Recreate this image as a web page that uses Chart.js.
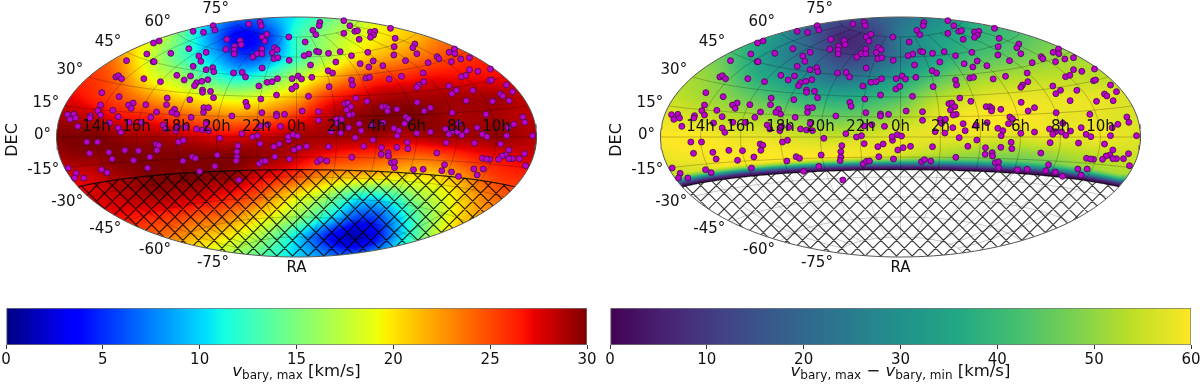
<!DOCTYPE html>
<html>
<head>
<meta charset="utf-8">
<style>
  html, body { margin: 0; padding: 0; background: #fff; overflow: hidden; width: 1200px; height: 384px; }
  canvas { position: absolute; }
</style>
<script src="https://cdn.jsdelivr.net/npm/chart.js@4"></script>
</head>
<body>
<canvas id="mapLeft" width="600" height="290" style="left:0;top:0"></canvas>
<canvas id="mapRight" width="596" height="290" style="left:604px;top:0"></canvas>
<canvas id="barLeft" width="604" height="89" style="left:0;top:295px"></canvas>
<canvas id="barRight" width="596" height="89" style="left:604px;top:295px"></canvas>
<script>
// sky plane of the Aitoff map: x -720..720, y -360..360
const raLabels = ['14h', '16h', '18h', '20h', '22h', '0h', '2h', '4h', '6h', '8h', '10h'];
const raLons = [-150, -120, -90, -60, -30, 0, 30, 60, 90, 120, 150];
const decLats = [75, 60, 45, 30, 15, 0, -15, -30, -45, -60, -75];
const decLimit = -24.5;

// targets, same list in both panels
const starX = [
  -250,-310,-279,-245,-143,-109,-106,-412,-429,-209,-169,-166,-103,-89,-95,-23,-186,-212,-187,-187,
  -449,-377,-323,-271,-293,-104,-118,-104,-131,-66,-58,-73,-68,-56,-22,-510,-430,-427,-287,-310,
  -251,-271,-248,-103,-189,-163,-153,-359,-318,-337,-542,-534,-525,-458,-408,-300,-306,-284,-266,-57,
  -88,-73,-13,-113,-14,-584,-282,-282,-258,-60,-532,-388,-249,-107,-320,-152,-148,-490,-504,-496,
  -452,-390,-588,-596,-551,-366,-360,-374,-278,-264,-279,-420,-104,-60,-36,-60,-194,-687,-668,-663,
  -680,-618,-620,-588,-535,-437,-316,-656,-561,-503,-465,-271,-400,-109,-86,-48,-357,-335,-392,-362,
  -535,-527,-300,-282,-264,-164,-230,-132,-117,
  -629,-597,-421,-413,-354,-339,-176,-109,-68,-52,-24,-25,-10,3,-621,-563,-553,-515,-474,-440,
  -419,-489,-341,-313,-303,-238,-179,-179,-181,-65,-8,-21,-112,-102,-93,-245,-447,-685,-661,-585,
  -568,-666,-638,-291,-173,
  142,70,68,160,49,58,142,175,183,222,235,231,222,282,296,188,26,293,355,349,
  214,131,96,60,67,37,23,165,292,361,422,427,458,474,475,465,493,519,118,42,
  191,230,217,259,327,395,95,108,519,544,582,495,508,380,315,278,208,219,165,46,
  5,15,168,98,-2,382,366,361,457,480,466,529,579,585,630,648,612,619,638,588,
  509,36,178,211,362,145,154,163,150,257,268,274,273,301,383,402,17,66,467,568,
  679,685,167,158,66,120,135,123,328,336,324,188,227,260,487,652,635,542,447,465,
  457,483,510,496,557,571,630,708,157,104,133,194,292,307,302,361,402,176,229,
  449,534,612,202,96,30,8,255,301,332,334,637,254,275,276,628,617,606,421,166,
  684,669,648,637,558,579,570,63,72,91,284,294,294,687,444,351,380,436,465,486,
  532,560,542
];
const starY = [
  334,317,314,321,339,344,334,288,282,293,289,277,300,308,288,300,272,263,261,249,
  249,251,265,254,243,264,250,250,240,268,262,253,235,238,230,229,226,226,227,212,
  208,202,196,207,192,194,180,185,183,171,180,184,175,175,166,163,154,167,172,175,
  164,166,175,153,144,133,141,134,137,126,121,117,118,114,112,104,92,102,96,86,
  97,97,96,79,80,83,69,74,88,88,74,75,73,69,68,63,63,67,68,57,
  53,64,57,66,61,59,59,32,42,44,44,40,36,33,37,32,32,29,24,19,
  27,14,24,21,19,10,-4,0,4,
  -15,-15,-21,-25,-15,-10,-26,-20,-29,-21,-10,1,7,3,-49,-46,-66,-40,-41,-60,
  -40,-70,-72,-59,-64,-54,-44,-60,-71,-59,-39,-66,-80,-73,-72,-88,-93,-93,-109,-98,
  -107,-123,-123,-103,-129,
  349,344,334,334,320,307,311,317,319,315,317,306,299,326,296,293,285,271,279,268,
  254,256,251,257,255,249,244,244,246,250,241,235,254,264,250,226,234,238,225,216,
  220,228,210,214,229,223,199,192,202,197,204,181,185,192,182,174,177,179,171,179,
  183,174,156,151,152,166,156,149,153,140,130,140,169,171,156,136,129,123,109,107,
  109,122,117,107,104,100,102,91,81,91,91,86,78,83,78,88,78,76,73,68,
  60,44,68,66,50,53,53,41,60,54,40,40,35,43,41,38,28,28,24,16,
  8,15,18,5,8,1,4,4,28,16,12,19,26,19,4,11,15,-2,-9,
  -17,-18,-21,-28,-29,-28,-32,-32,-31,-16,-35,-39,-52,-47,-57,-54,-57,-67,-48,-61,
  -50,-65,-65,-65,-64,-67,-66,-74,-68,-72,-77,-75,-92,-86,-83,-98,-97,-101,-105,-118,
  -96,-96,-114
];

// v_bary,max read on a plane grid: 25 columns x=-720..720, rows y=360 downwards, every 60
const vMaxRows = [
  [22,22,21,20,18,17,15,12,9,7,7,9,11,13,15,17,19,20,21,22,23,24,24,25,25],
  [25,24,23,21,20,18,15,11,7,3.5,4,7,12.5,15,17,18.5,19.5,20.5,21.5,23,24,25,25,26,26],
  [26,25,24.5,23,20,17,14,11.5,9,6,6,9,12.5,15.5,18,20,21.5,22.5,23.5,24.5,25.5,26,26.5,27,27],
  [26.5,26,25.5,24,21,18.5,17,14.5,12.5,11,12,14.5,17,19.5,22,24,25.5,26,26.5,27,27,27,27,27,27],
  [27.5,27,26,25,23.5,22,20.5,19.5,18.5,18,18.5,20,21.5,24.5,26.5,27.5,28.5,29,29,29,29,29,29,28.5,28],
  [29,28.5,28,27,26.5,26,25,24,23.5,23,23.5,24.5,26,27.5,29,29.5,30,30,30,29.5,29,29,29,28.5,28.5],
  [30,30,30,29.5,29,29,28.5,28,27.5,27.5,28,28.5,29,29,29,29,29,28.5,28.5,29,29,29,29.5,29,28.5],
  [29,29.5,29.5,30,30,30,30,30,30,30,29.5,29,28,27,26,25.5,25,24.5,24,24.5,25.5,26.5,27,27.5,28],
  [27,27.5,28,29,29.5,30,30,30,29.5,29,27.5,26.5,25,23,21.5,21,20.5,20,20,20.5,22,24,25.5,26,26],
  [26.5,27,27.5,28,28.5,29,28.5,28,27,26,24.5,22,19.5,17.5,14.5,11.5,11,13,16,18,20,22.5,24,25,25],
  [26.5,27,27,27,26.5,26,25.5,24.5,24,22.5,20.5,18.5,16,13,9.5,6,6,9.5,13.5,17,20,22,23,24,24],
  [26,26,26,25.5,25,24,23,21.5,20.5,19,17,14,10.5,6.5,3,1.5,4,9,13.5,18,21,22,23,24,24],
  [25,25,25,24,23,22,20,19,18,16,14,12,10,8.5,7,7,9,12,16,19,21,22,23,24,24]
];
// v_bary,max - v_bary,min, same grid, nothing south of the declination limit
const vSpanRows = [
  [44,44,42,40,36,34,30,24,18,14,14,18,22,26,30,34,38,40,42,44,46,48,48,50,50],
  [50,48,46,42,40,36,30,22,14,7,8,14,25,30,34,37,39,41,43,46,48,50,50,52,52],
  [52,50,49,46,40,34,28,23,18,12,12,18,25,31,36,40,43,45,47,49,51,52,53,54,54],
  [53,52,51,48,42,37,34,29,25,22,24,29,34,39,44,48,51,52,53,54,54,54,54,54,54],
  [55,54,52,50,47,44,41,39,37,36,37,40,43,49,53,55,57,58,58,58,58,58,58,57,56],
  [58,57,56,54,53,52,50,48,47,46,47,49,52,55,58,59,60,60,60,59,58,58,58,57,57],
  [60,60,60,59,58,58,57,56,55,55,56,57,58,58,58,58,58,57,57,58,58,58,59,58,57],
  [58,59,59,60,60,60,60,60,60,60,59,58,56,54,52,50,49,48,48,49,51,53,54,55,56],
  [54,55,56,58,59,60,60,60,59,58,55,53,50,46,43,42,41,40,40,41,44,48,51,52,52],
  [53,54,55,56,57,58,57,56,54,52,49,44,39,35,29,23,22,26,32,36,40,45,48,50,50]
];
// fall-off of the span towards the limit: degrees above it, fraction kept
const edgeDepth = [0, 1, 2, 3, 4, 5, 6, 7, 8, 9, 10];
const edgeKeep = [0.02, 0.05, 0.12, 0.25, 0.42, 0.58, 0.72, 0.83, 0.9, 0.96, 1];

const jetR = [[0, 0], [0.35, 0], [0.66, 1], [0.89, 1], [1, 0.5]];
const jetG = [[0, 0], [0.125, 0], [0.375, 1], [0.64, 1], [0.91, 0], [1, 0]];
const jetB = [[0, 0.5], [0.11, 1], [0.34, 1], [0.65, 0], [1, 0]];
const viridisStops = ['#440154', '#482475', '#414487', '#355f8d', '#2a788e', '#21918c', '#22a884', '#44bf70', '#7ad151', '#bddf26', '#fde725'];

const textFont = '"DejaVu Sans"';
const textColor = '#111';
// vertical nudge of each declination label from the map edge, px
const decLabelShift = [-12, -11, -10, -7, -3, -2, 2, 5, 7, 9, 10];

function lookup(table, t) {
    for (let i = 1; i < table.length; i++) {
        if (t <= table[i][0]) {
            const a = table[i - 1], b = table[i];
            return a[1] + (b[1] - a[1]) * (t - a[0]) / (b[0] - a[0]);
        }
    }
    return table[table.length - 1][1];
}
function jet(t) {
    return [lookup(jetR, t) * 255, lookup(jetG, t) * 255, lookup(jetB, t) * 255];
}
const viridisRgb = viridisStops.map(h => [1, 3, 5].map(i => parseInt(h.substr(i, 2), 16)));
function viridis(t) {
    const p = Math.min(t, 0.9999) * 10, i = Math.floor(p), f = p - i;
    return [0, 1, 2].map(k => viridisRgb[i][k] + (viridisRgb[i + 1][k] - viridisRgb[i][k]) * f);
}

function aitoff(lon, lat) {
    const lam = lon * Math.PI / 180, phi = lat * Math.PI / 180;
    const alpha = Math.acos(Math.cos(phi) * Math.cos(lam / 2));
    const sinc = alpha < 1e-6 ? 1 : Math.sin(alpha) / alpha;
    return {
        x: 2 * Math.cos(phi) * Math.sin(lam / 2) / sinc / Math.PI * 720,
        y: Math.sin(phi) / sinc / (Math.PI / 2) * 360
    };
}
function latCurve(lat, step) {
    const pts = [];
    for (let lon = -180; lon <= 180; lon += step) pts.push(aitoff(lon, lat));
    return pts;
}
const limitCurve = latCurve(decLimit, 1);
function limitYAt(x) {
    for (let i = 1; i < limitCurve.length; i++) {
        if (x <= limitCurve[i].x) {
            const a = limitCurve[i - 1], b = limitCurve[i];
            return a.y + (b.y - a.y) * (x - a.x) / (b.x - a.x || 1);
        }
    }
    return limitCurve[limitCurve.length - 1].y;
}

// smooth shading between the grid values
function cubic(a, b, c, d, t) {
    return b + 0.5 * t * (c - a + t * (2 * a - 5 * b + 4 * c - d + t * (3 * (b - c) + d - a)));
}
function fieldAt(rows, px, py) {
    const nr = rows.length - 1, nc = rows[0].length - 1;
    const r0 = Math.min(Math.floor(py), nr - 1), c0 = Math.min(Math.floor(px), nc - 1);
    const fx = px - c0, fy = Math.min(py - r0, 1);
    const col = r => {
        const row = rows[Math.max(0, Math.min(nr, r))];
        const at = k => row[Math.max(0, Math.min(nc, k))];
        return cubic(at(c0 - 1), at(c0), at(c0 + 1), at(c0 + 2), fx);
    };
    return cubic(col(r0 - 1), col(r0), col(r0 + 1), col(r0 + 2), fy);
}

// field image at 1 px per 3 plane units
function fieldImage(rows, vmax, cmap, fade) {
    const c = document.createElement('canvas');
    c.width = 480; c.height = 240;
    const g = c.getContext('2d');
    const img = g.createImageData(480, 240);
    const keepTable = edgeDepth.map((d, i) => [d, edgeKeep[i]]);
    for (let j = 0; j < 240; j++) {
        for (let i = 0; i < 480; i++) {
            let v = fieldAt(rows, (i + 0.5) / 20, (j + 0.5) / 20);
            const k = (j * 480 + i) * 4;
            let a = 255;
            if (fade) {
                const x = -720 + (i + 0.5) * 3, y = 360 - (j + 0.5) * 3;
                const depth = (y - limitYAt(x)) * 0.25;
                if (depth < 0) a = 0;
                else if (depth < 10) v *= lookup(keepTable, depth);
            }
            const col = cmap(Math.max(0, Math.min(1, v / vmax)));
            img.data[k] = col[0]; img.data[k + 1] = col[1]; img.data[k + 2] = col[2]; img.data[k + 3] = a;
        }
    }
    g.putImageData(img, 0, 0);
    return c;
}

function ellipsePath(ctx, xs, ys) {
    const cx = xs.getPixelForValue(0), cy = ys.getPixelForValue(0);
    ctx.beginPath();
    ctx.ellipse(cx, cy, xs.getPixelForValue(720) - cx, ys.getPixelForValue(-360) - cy, 0, 0, Math.PI * 2);
}

function skyPlugin(opts) {
    return {
        id: 'sky',
        beforeDatasetsDraw(chart) {
            const ctx = chart.ctx, xs = chart.scales.x, ys = chart.scales.y;
            const toX = v => xs.getPixelForValue(v), toY = v => ys.getPixelForValue(v);
            ctx.save();
            ellipsePath(ctx, xs, ys);
            ctx.clip();
            ctx.drawImage(opts.field, toX(-720), toY(360), toX(720) - toX(-720), toY(-360) - toY(360));

            // hatched part of the sky, south of the limit
            ctx.beginPath();
            limitCurve.forEach((p, i) => i ? ctx.lineTo(toX(p.x), toY(p.y)) : ctx.moveTo(toX(p.x), toY(p.y)));
            ctx.lineTo(toX(720), toY(-360));
            ctx.lineTo(toX(-720), toY(-360));
            ctx.closePath();
            ctx.clip();
            ctx.strokeStyle = opts.hatch;
            ctx.lineWidth = 1.2;
            ctx.beginPath();
            for (let k = -30; k <= 30; k++) {
                const x0 = 35 + k * 47;
                ctx.moveTo(toX(x0 - 500), toY(-357 + 500));
                ctx.lineTo(toX(x0 + 500), toY(-357 - 500));
                ctx.moveTo(toX(x0 - 500), toY(-357 - 500));
                ctx.lineTo(toX(x0 + 500), toY(-357 + 500));
            }
            ctx.stroke();
            ctx.restore();

            ctx.save();
            ellipsePath(ctx, xs, ys);
            ctx.clip();
            ctx.strokeStyle = opts.hatch;
            ctx.lineWidth = 1.2;
            ctx.beginPath();
            limitCurve.forEach((p, i) => i ? ctx.lineTo(toX(p.x), toY(p.y)) : ctx.moveTo(toX(p.x), toY(p.y)));
            ctx.stroke();
            ctx.restore();
        },
        afterDatasetsDraw(chart) {
            const ctx = chart.ctx, xs = chart.scales.x, ys = chart.scales.y;
            ctx.save();
            ctx.fillStyle = textColor;
            ctx.font = '15px ' + textFont;
            ctx.textBaseline = 'middle';
            ctx.textAlign = 'center';
            raLabels.forEach((t, i) => {
                const p = aitoff(raLons[i], 0);
                ctx.fillText(t, xs.getPixelForValue(p.x), ys.getPixelForValue(p.y) - 10);
            });
            ctx.textAlign = 'right';
            decLats.forEach((lat, i) => {
                const p = aitoff(-180, lat);
                ctx.fillText(lat + '°', xs.getPixelForValue(p.x) - 5.5, ys.getPixelForValue(p.y) + decLabelShift[i]);
            });
            ctx.textAlign = 'center';
            ctx.fillText('RA', xs.getPixelForValue(0), ys.getPixelForValue(-360) + 11);
            ctx.font = '16px ' + textFont;
            ctx.translate(xs.getPixelForValue(-720) - 44, ys.getPixelForValue(0) + 3);
            ctx.rotate(-Math.PI / 2);
            ctx.fillText('DEC', 0, 0);
            ctx.restore();
        }
    };
}

function skyDatasets() {
    const grid = 'rgba(0,0,0,0.28)';
    const line = (pts, color, width) => ({
        data: pts, showLine: true, pointRadius: 0, borderColor: color, borderWidth: width, clip: false, tension: 0
    });
    const sets = [{
        data: starX.map((x, i) => ({ x: x, y: starY[i] })),
        pointRadius: 3, pointBackgroundColor: 'rgb(190,0,205)',
        pointBorderColor: '#3b1046', pointBorderWidth: 0.8, clip: false
    }];
    const edge = [];
    for (let lat = -90; lat <= 90; lat += 2) edge.push(aitoff(-180, lat));
    for (let lat = 90; lat >= -90; lat -= 2) edge.push(aitoff(180, lat));
    sets.push(line(edge, '#555', 1));
    decLats.forEach(lat => sets.push(line(latCurve(lat, 5), grid, 0.8)));
    raLons.forEach(lon => {
        const pts = [];
        for (let lat = -75; lat <= 75; lat += 5) pts.push(aitoff(lon, lat));
        sets.push(line(pts, grid, 0.8));
    });
    return sets;
}

function makeMap(id, width, plugin) {
    new Chart(document.getElementById(id), {
        type: 'scatter',
        data: { datasets: skyDatasets() },
        options: {
            responsive: false,
            animation: false,
            layout: { padding: { left: 56.5, right: width - 536.5, top: 17, bottom: 33 } },
            scales: {
                x: { display: false, min: -720, max: 720 },
                y: { display: false, min: -360, max: 360 }
            },
            plugins: { legend: { display: false }, tooltip: { enabled: false } }
        },
        plugins: [plugin]
    });
}

function titlePlugin(parts) {
    return {
        id: 'cbarTitle',
        afterDraw(chart) {
            const ctx = chart.ctx, a = chart.chartArea;
            ctx.save();
            ctx.fillStyle = textColor;
            ctx.textBaseline = 'alphabetic';
            ctx.textAlign = 'left';
            let w = 0;
            parts.forEach(p => { ctx.font = p.font; w += ctx.measureText(p.text).width; });
            let x = (a.left + a.right) / 2 - w / 2;
            parts.forEach(p => {
                ctx.font = p.font;
                ctx.fillText(p.text, x, 81 + p.drop);
                x += ctx.measureText(p.text).width;
            });
            ctx.restore();
        }
    };
}

function makeBar(id, width, vmax, step, cmap, parts) {
    new Chart(document.getElementById(id), {
        type: 'bar',
        data: {
            labels: ['colour'],
            datasets: [{
                data: [[0, vmax]],
                barPercentage: 1,
                categoryPercentage: 1,
                borderWidth: 1,
                borderColor: '#777',
                borderSkipped: false,
                backgroundColor(c) {
                    const a = c.chart.chartArea;
                    if (!a) return '#888';
                    const g = c.chart.ctx.createLinearGradient(a.left, 0, a.right, 0);
                    for (let i = 0; i <= 100; i++) {
                        const rgb = cmap(i / 100).map(Math.round);
                        g.addColorStop(i / 100, 'rgb(' + rgb.join(',') + ')');
                    }
                    return g;
                }
            }]
        },
        options: {
            indexAxis: 'y',
            responsive: false,
            animation: false,
            layout: { padding: { left: 6, right: width - 587, top: 13, bottom: 0 } },
            scales: {
                x: {
                    min: 0, max: vmax,
                    afterFit(scale) { scale.paddingLeft = 0; scale.paddingRight = 0; scale.height = 39; },
                    ticks: { stepSize: step, color: textColor, font: { family: textFont, size: 15 }, padding: 2, maxRotation: 0 },
                    grid: { drawOnChartArea: false, tickLength: 4, tickColor: '#333' },
                    border: { display: false }
                },
                y: { display: false }
            },
            plugins: { legend: { display: false }, tooltip: { enabled: false } }
        },
        plugins: [titlePlugin(parts)]
    });
}

const vFont = 'italic 16.5px ' + textFont, subFont = '12px ' + textFont, plainFont = '16.5px ' + textFont;

makeMap('mapLeft', 600, skyPlugin({ field: fieldImage(vMaxRows, 30, jet, false), hatch: 'rgba(0,0,0,0.8)' }));
makeMap('mapRight', 596, skyPlugin({ field: fieldImage(vSpanRows, 60, viridis, true), hatch: 'rgba(0,0,0,0.75)' }));
makeBar('barLeft', 604, 30, 5, jet, [
    { text: 'v', font: vFont, drop: 0 }, { text: 'bary, max', font: subFont, drop: 3 }, { text: ' [km/s]', font: plainFont, drop: 0 }
]);
makeBar('barRight', 596, 60, 10, viridis, [
    { text: 'v', font: vFont, drop: 0 }, { text: 'bary, max', font: subFont, drop: 3 }, { text: ' − ', font: plainFont, drop: 0 },
    { text: 'v', font: vFont, drop: 0 }, { text: 'bary, min', font: subFont, drop: 3 }, { text: ' [km/s]', font: plainFont, drop: 0 }
]);
</script>
</body>
</html>
